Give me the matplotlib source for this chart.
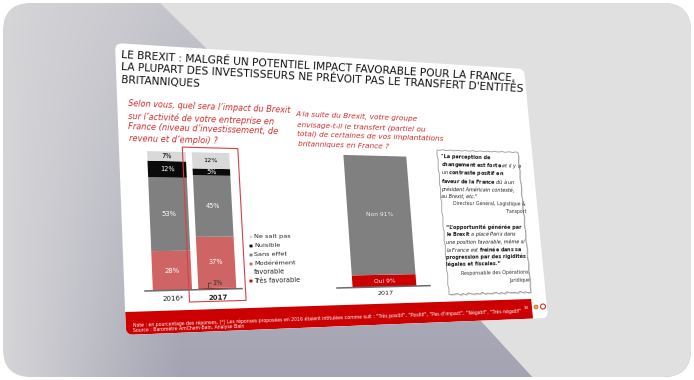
import numpy as np
import matplotlib
matplotlib.use("Agg")
import matplotlib.pyplot as plt
from matplotlib.transforms import Transform
from matplotlib.patches import FancyBboxPatch, Polygon, Rectangle, Circle

# ---------------- data ----------------
left_categories = ["2016*", "2017"]
legend_labels = ["Ne sait pas", "Nuisible", "Sans effet", "Modérément\nfavorable", "Très favorable"]
tres_favorable = [0, 1]
moderement_favorable = [28, 37]
sans_effet = [53, 45]
nuisible = [12, 5]
ne_sait_pas = [7, 12]

right_categories = ["2017"]
right_labels = ["Oui", "Non"]
oui = [9]
non = [91]

title_lines = ["LE BREXIT : MALGRÉ UN POTENTIEL IMPACT FAVORABLE POUR LA FRANCE,",
               "LA PLUPART DES INVESTISSEURS NE PRÉVOIT PAS LE TRANSFERT D'ENTITÉS",
               "BRITANNIQUES"]
q_left = ["Selon vous, quel sera l’impact du Brexit",
          "sur l’activité de votre entreprise en",
          "France (niveau d’investissement, de",
          "revenu et d’emploi) ?"]
q_right = ["A la suite du Brexit, votre groupe",
           "envisage-t-il le transfert (partiel ou",
           "total) de certaines de vos implantations",
           "britanniques en France ?"]
note_text = ("Note : en pourcentage des réponses, (*) Les réponses proposées en 2016 étaient intitulées "
             "comme suit : \"Très positif\", \"Positif\", \"Pas d'impact\", \"Négatif\", \"Très négatif\"")
source_text = "Source : Baromètre AmCham-Bain, Analyse Bain"

C_NSP, C_NUI, C_SANS, C_MOD, C_TRES = "#d9d9d9", "#0a0a0a", "#808080", "#cf6464", "#cc0000"
RED = "#cc0000"
QRED = "#d22b2b"

W, H = 694, 380
fig = plt.figure(figsize=(W / 100, H / 100), dpi=100)
fig.patch.set_facecolor("white")


# ---------------- perspective machinery ----------------
def homography(src, dst):
    A, b = [], []
    for (x, y), (u, v) in zip(src, dst):
        A.append([x, y, 1, 0, 0, 0, -u * x, -u * y]); b.append(u)
        A.append([0, 0, 0, x, y, 1, -v * x, -v * y]); b.append(v)
    h = np.linalg.solve(np.array(A, float), np.array(b, float))
    return np.append(h, 1.0).reshape(3, 3)


def apply(M, x, y):
    p = M @ np.array([x, y, 1.0])
    return p[0] / p[2], p[1] / p[2]


class Homog(Transform):
    input_dims = 2
    output_dims = 2
    is_separable = False
    has_inverse = False

    def __init__(self, M):
        super().__init__()
        self._M = M

    def transform_non_affine(self, values):
        v = np.asarray(values, float)
        one = v.ndim == 1
        v = v.reshape(-1, 2)
        p = np.c_[v, np.ones(len(v))] @ self._M.T
        r = p[:, :2] / p[:, 2:3]
        return r[0] if one else r


flat_c = [(115, 43), (535, 43), (535, 335), (115, 335)]
quad_c = [(115, 43), (524, 69), (548, 318), (126, 335)]
Himg = homography(flat_c, quad_c)
Hinv = np.linalg.inv(Himg)
D = np.array([[1, 0, 0], [0, -1, H], [0, 0, 1]], float)
HT = Homog(D @ Himg @ D)

bg = fig.add_axes([0, 0, 1, 1])
bg.set_zorder(0)
TF = bg.transData + HT

# ---------------- background card ----------------
card = FancyBboxPatch((3, 3), 688, 374, boxstyle="round,pad=0,rounding_size=28",
                      transform=bg.transData, fc="none", ec="none")
yy, xx = np.mgrid[0:H, 0:W]
t = np.clip(xx / 180.0, 0, 1) * (0.35 + 0.65 * yy / H)
c0 = np.array([0.84, 0.84, 0.85]); c1 = np.array([0.64, 0.64, 0.70])
img = c0 * (1 - t[..., None]) + c1 * t[..., None]
im = bg.imshow(img, extent=(0, W, H, 0), aspect="auto", interpolation="bilinear", zorder=1)
im.set_clip_path(card)
light = Polygon([(157, 0), (W, 0), (W, H), (535, H), (480, 320), (300, 140)],
                closed=True, fc="#e0e0e0", ec="none", zorder=2)
bg.add_patch(light)
light.set_clip_path(card)
bg.set_xlim(0, W); bg.set_ylim(H, 0); bg.axis("off")

# slide
slide = FancyBboxPatch((115, 43), 420, 292, boxstyle="round,pad=0,rounding_size=7",
                       fc="white", ec="none", zorder=3)
slide.set_transform(TF)
bg.add_patch(slide)
slide.set_clip_on(False)

# footer band
fx_r, _ = apply(Hinv, 532, 308)
_, fy_t = apply(Hinv, 126, 312)
band = Rectangle((115, fy_t), fx_r - 115, 335 - fy_t, fc=RED, ec="none", zorder=4)
band.set_transform(TF)
bg.add_patch(band)
band.set_clip_path(slide)

# quote box (torn paper)
qx0, qy0 = apply(Hinv, 437, 150)
qx1, qy1 = apply(Hinv, 531, 292)
pts = []
n = 30
for i in range(n):
    x = qx0 + (qx1 - qx0) * i / n
    pts.append((x, qy0 + 0.5 * np.sin(i * 2.3)))
for i in range(n):
    y = qy0 + (qy1 - qy0) * i / n
    pts.append((qx1 + 0.5 * np.sin(i * 1.9), y))
for i in range(n):
    x = qx1 - (qx1 - qx0) * i / n
    pts.append((x, qy1 + 0.9 * np.sin(i * 2.7) + 0.4 * np.sin(i * 1.3)))
for i in range(n):
    y = qy1 - (qy1 - qy0) * i / n
    pts.append((qx0 + 0.5 * np.sin(i * 2.1), y))
shadow = Polygon([(x + 1.2, y + 1.5) for x, y in pts], closed=True, fc="#bdbdbd", ec="none",
                 alpha=0.6, zorder=5)
shadow.set_transform(TF); bg.add_patch(shadow); shadow.set_clip_on(False)
qbox = Polygon(pts, closed=True, fc="white", ec="#9a9a9a", lw=0.6, zorder=6)
qbox.set_transform(TF); bg.add_patch(qbox); qbox.set_clip_on(False)

# ---------------- chart axes ----------------
def flat_axes(bl, br, tl):
    x0, y0 = apply(Hinv, *bl)
    x1, _ = apply(Hinv, *br)
    _, yt = apply(Hinv, *tl)
    ax = fig.add_axes([x0 / W, 1 - y0 / H, (x1 - x0) / W, (y0 - yt) / H])
    ax.axis("off")
    ax.set_zorder(1)
    return ax


def warp(artist, ax):
    artist.set_transform(ax.transData + HT)
    artist.set_clip_on(False)


axL = flat_axes((145, 291), (242, 289), (145, 151))
axR = flat_axes((337, 288), (430, 286), (384, 156))

top = fig.add_axes([0, 0, 1, 1])
top.set_zorder(2)
top.set_xlim(0, W); top.set_ylim(H, 0); top.axis("off")


def itext(px, py, s, size, **kw):
    fx, fy = apply(Hinv, px, py)
    x1, y1 = apply(Himg, fx + 10, fy)
    x2, y2 = apply(Himg, fx, fy + 10)
    ang = -np.degrees(np.arctan2(y1 - py, x1 - px))
    sc = np.sqrt(np.hypot(x1 - px, y1 - py) * np.hypot(x2 - px, y2 - py)) / 10
    return top.text(px, py, s, fontsize=size * sc, rotation=ang, rotation_mode="anchor", **kw)


def atext(ax, x, y, s, size, **kw):
    dx, dy = ax.transData.transform((x, y))
    px, py = apply(Himg, dx, H - dy)
    return itext(px, py, s, size, **kw)


# left chart
axL.set_xlim(-0.6, 1.56); axL.set_ylim(0, 100)
xL = np.arange(len(left_categories))
series = [(tres_favorable, C_TRES, "#333333"), (moderement_favorable, C_MOD, "white"),
          (sans_effet, C_SANS, "white"), (nuisible, C_NUI, "white"), (ne_sait_pas, C_NSP, "black")]
bottom = np.zeros(len(xL))
for vals, col, tcol in series:
    vals = np.array(vals, float)
    bars = axL.bar(xL, vals, 0.86, bottom=bottom, color=col, linewidth=0)
    for b in bars:
        warp(b, axL)
    for xi, v, b0 in zip(xL, vals, bottom):
        if v >= 3:
            atext(axL, xi, b0 + v / 2, f"{v:.0f}%", 4.6, color=tcol, ha="center", va="center")
        elif v > 0:
            atext(axL, xi, b0 + v + 3.2, f"{v:.0f}%", 4.6, color=tcol, ha="center", va="center")
            ld = axL.plot([xi - 0.2, xi - 0.2, xi - 0.14], [b0 + v, b0 + v + 3.5, b0 + v + 3.5],
                          color="#333333", lw=0.5)[0]
            warp(ld, axL)
    bottom += vals
base = axL.plot([-0.6, 1.56], [0, 0], color="#6b6b6b", lw=1.1)[0]
warp(base, axL)
hl = Rectangle((0.36, -8.6), 1.28, 112.2, fill=False, ec="#d64045", lw=0.8)
axL.add_patch(hl); warp(hl, axL)
for xi, lab in zip(xL, left_categories):
    atext(axL, xi, -6, lab, 4.8, color="#222222", ha="center", va="center",
          fontweight="bold" if lab == "2017" else "normal")

# right chart
axR.set_xlim(-0.59, 0.575); axR.set_ylim(0, 100)
xR = np.arange(len(right_categories))
bo = axR.bar(xR, oui, 0.8, color=RED, linewidth=0)
bn = axR.bar(xR, non, 0.8, bottom=oui, color=C_SANS, linewidth=0)
for b in list(bo) + list(bn):
    warp(b, axR)
for xi, v in zip(xR, oui):
    atext(axR, xi, v / 2, f"{right_labels[0]} {v}%", 4.6, color="white", ha="center", va="center")
for xi, v, b0 in zip(xR, non, oui):
    atext(axR, xi, b0 + v / 2, f"{right_labels[1]} {v}%", 4.6, color="#eeeeee", ha="center", va="center")
baseR = axR.plot([-0.59, 0.575], [0, 0], color="#6b6b6b", lw=1.1)[0]
warp(baseR, axR)
for xi, lab in zip(xR, right_categories):
    atext(axR, xi, -4.8, lab, 4.8, color="#222222", ha="center", va="center")

# legend
leg_y = [237, 246, 255, 264, 281]
leg_cols = [C_NSP, C_NUI, C_SANS, C_MOD, C_TRES]
for y, col, lab in zip(leg_y, leg_cols, legend_labels):
    fx, fy = apply(Hinv, 251, y)
    sq = Rectangle((fx - 1.4, fy - 1.4), 2.8, 2.8, fc=col, ec="none", zorder=7)
    sq.set_transform(TF); bg.add_patch(sq); sq.set_clip_on(False)
    lines = lab.split("\n")
    for k, ln in enumerate(lines):
        itext(254, y + k * 8, ln, 4.6, color="#222222", ha="left", va="center")

# ---------------- texts ----------------
for ln, y in zip(title_lines, [55, 67.5, 80]):
    itext(121, y, ln, 7.3, color="#111111", ha="left", va="center")
for ln, (x, y) in zip(q_left, [(128, 104), (128, 116), (128, 127), (129, 138.5)]):
    itext(x, y, ln, 5.6, color=QRED, style="italic", ha="left", va="center")
for ln, (x, y) in zip(q_right, [(296, 113.5), (297, 124.5), (297, 134), (298, 144)]):
    itext(x, y, ln, 5.5, color=QRED, style="italic", ha="left", va="center")

QS = 3.9
quote1 = [('"La perception de', "bold", "normal"),
          (r"$\mathbf{changement\ est\ forte}$ et il y a", "normal", "italic"),
          (r"un $\mathbf{contraste\ positif\ en}$", "normal", "italic"),
          (r"$\mathbf{faveur\ de\ la\ France}$ dû à un", "normal", "italic"),
          ("président Américain contesté,", "normal", "italic"),
          ('au Brexit, etc."', "normal", "italic")]
for (s, fw, st), y in zip(quote1, [157, 165, 173, 181, 189, 197]):
    itext(441, y, s, QS, color="#1a1a1a", fontweight=fw, style=st, ha="left", va="center")
itext(526, 204, "Directeur Général, Logistique &", QS, color="#333333", ha="right", va="center")
itext(526, 211.5, "Transport", QS, color="#333333", ha="right", va="center")

quote2 = [("“L’opportunité générée par", "bold", "normal"),
          (r"$\mathbf{le\ Brexit}$ a placé Paris dans", "normal", "italic"),
          ("une position favorable, même si", "normal", "italic"),
          (r"la France est $\mathbf{freinée\ dans\ sa}$", "normal", "italic"),
          ("progression par des rigidités", "bold", "normal"),
          ("légales et fiscales.”", "bold", "normal")]
for (s, fw, st), y in zip(quote2, [227, 234.5, 242, 249.5, 257, 264.5]):
    itext(446, y, s, QS, color="#1a1a1a", fontweight=fw, style=st, ha="left", va="center")
itext(530, 272, "Responsable des Opérations,", QS, color="#333333", ha="right", va="center")
itext(530, 279.5, "Juridique", QS, color="#333333", ha="right", va="center")

# footer
itext(133, 325, note_text, 3.0, color="white", ha="left", va="center")
itext(133, 330.5, source_text, 3.0, color="white", ha="left", va="center")
itext(526, 308, "34", 3.2, color="white", ha="center", va="center")
top.add_patch(Circle((536, 307), 2.0, fc="#e0b040", ec="#c04020", lw=0.4))
top.add_patch(Circle((543, 306.5), 2.5, fc="none", ec="#d03030", lw=0.8))

fig.savefig("out.png", dpi=100)
